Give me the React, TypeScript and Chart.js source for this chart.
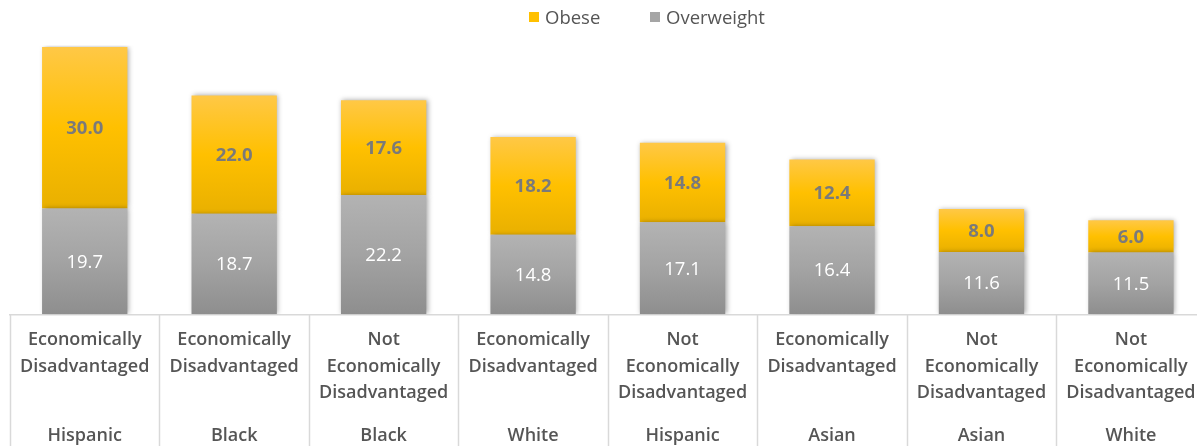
import React, { useEffect, useRef } from 'react';
import { Chart, registerables } from 'chart.js';

Chart.register(...registerables);

const subLabels: string[][] = [
  ['Economically', 'Disadvantaged'],
  ['Economically', 'Disadvantaged'],
  ['Not', 'Economically', 'Disadvantaged'],
  ['Economically', 'Disadvantaged'],
  ['Not', 'Economically', 'Disadvantaged'],
  ['Economically', 'Disadvantaged'],
  ['Not', 'Economically', 'Disadvantaged'],
  ['Not', 'Economically', 'Disadvantaged'],
];
const groupLabels: string[] = ['Hispanic', 'Black', 'Black', 'White', 'Hispanic', 'Asian', 'Asian', 'White'];
const overweight: number[] = [19.7, 18.7, 22.2, 14.8, 17.1, 16.4, 11.6, 11.5];
const obese: number[] = [30.0, 22.0, 17.6, 18.2, 14.8, 12.4, 8.0, 6.0];
const seriesNames = ['Overweight', 'Obese'];

const FONT = "'Open Sans', sans-serif";
const TEXT = '#555555';

function makeGradient(chart: any, di: number, i: number) {
  const ys = chart.scales?.y;
  if (!ys) return di === 0 ? '#a5a5a5' : '#ffc000';
  const lo = di === 0 ? 0 : overweight[i];
  const hi = di === 0 ? overweight[i] : overweight[i] + obese[i];
  const top = ys.getPixelForValue(hi);
  const bot = ys.getPixelForValue(lo);
  if (!isFinite(top) || !isFinite(bot)) return di === 0 ? '#a5a5a5' : '#ffc000';
  const g = chart.ctx.createLinearGradient(0, top, 0, bot);
  if (di === 0) {
    g.addColorStop(0, '#b3b3b3');
    g.addColorStop(0.5, '#a3a3a3');
    g.addColorStop(1, '#8e8e8e');
  } else {
    g.addColorStop(0, '#ffc846');
    g.addColorStop(0.5, '#ffc000');
    g.addColorStop(1, '#e9b000');
  }
  return g;
}

const decorPlugin = {
  id: 'decor',
  beforeDatasetsDraw(chart: any) {
    const ctx = chart.ctx;
    ctx.save();
    ctx.shadowColor = 'rgba(0,0,0,0.35)';
    ctx.shadowBlur = 5;
    ctx.shadowOffsetX = 1.5;
    ctx.shadowOffsetY = 0;
  },
  afterDatasetsDraw(chart: any) {
    const ctx = chart.ctx;
    ctx.restore();
    ctx.save();
    ctx.textAlign = 'center';
    ctx.textBaseline = 'middle';
    chart.data.datasets.forEach((ds: any, di: number) => {
      const meta = chart.getDatasetMeta(di);
      meta.data.forEach((el: any, i: number) => {
        const p = el.getProps(['x', 'y', 'base'], true);
        const v = ds.data[i];
        if (di === 0) {
          ctx.font = `400 18.5px ${FONT}`;
          ctx.fillStyle = '#ffffff';
        } else {
          ctx.font = `700 18.5px ${FONT}`;
          ctx.fillStyle = '#7a7a7a';
        }
        ctx.fillText(v.toFixed(1), p.x, (p.y + p.base) / 2 + 1);
      });
    });
    ctx.restore();
  },
  afterDraw(chart: any) {
    const ctx = chart.ctx;
    const xs = chart.scales.x;
    ctx.save();
    ctx.strokeStyle = '#d9d9d9';
    ctx.lineWidth = 1.5;
    for (let i = 0; i <= subLabels.length; i++) {
      const px = Math.round(xs.getPixelForValue(i - 0.5)) + 0.5;
      ctx.beginPath();
      ctx.moveTo(px, chart.chartArea.bottom);
      ctx.lineTo(px, chart.height);
      ctx.stroke();
    }
    ctx.restore();
  },
};

export default function App() {
  const ref = useRef<HTMLCanvasElement | null>(null);
  useEffect(() => {
    if (!ref.current) return;
    const chart = new Chart(ref.current, {
      type: 'bar',
      data: {
        labels: subLabels as any,
        datasets: [
          {
            label: seriesNames[0],
            data: overweight,
            backgroundColor: (c: any) => makeGradient(c.chart, 0, c.dataIndex),
            borderWidth: 0,
            barPercentage: 0.571,
            categoryPercentage: 1,
          },
          {
            label: seriesNames[1],
            data: obese,
            backgroundColor: (c: any) => makeGradient(c.chart, 1, c.dataIndex),
            borderWidth: 0,
            barPercentage: 0.571,
            categoryPercentage: 1,
          },
        ],
      },
      options: {
        animation: false,
        responsive: false,
        devicePixelRatio: 1,
        layout: { padding: { left: 10, right: 0, top: 45.5, bottom: 0 } },
        plugins: {
          legend: { display: false },
          tooltip: { enabled: false },
        },
        scales: {
          x: {
            stacked: true,
            offset: true,
            grid: { display: false, drawTicks: false, tickLength: 0 },
            border: { display: true, color: '#d9d9d9', width: 1.5 },
            ticks: {
              autoSkip: false,
              maxRotation: 0,
              minRotation: 0,
              padding: 12.45,
              color: TEXT,
              font: { family: FONT, size: 18, weight: '600', lineHeight: '26.5px' as any },
            },
          },
          x2: {
            type: 'category',
            labels: groupLabels,
            position: 'bottom',
            offset: true,
            grid: { display: false, drawTicks: false, tickLength: 0 },
            border: { display: false },
            ticks: {
              autoSkip: false,
              maxRotation: 0,
              minRotation: 0,
              padding: 7.15,
              color: TEXT,
              font: { family: FONT, size: 18, weight: '600', lineHeight: '20px' as any },
            },
          },
          y: {
            stacked: true,
            display: false,
            min: 0,
            max: 50,
          },
        },
      },
      plugins: [decorPlugin],
    });
    return () => chart.destroy();
  }, []);

  const legendText: React.CSSProperties = {
    position: 'absolute',
    top: 4,
    fontFamily: FONT,
    fontSize: '18.5px',
    lineHeight: '26px',
    color: TEXT,
    whiteSpace: 'nowrap',
    display: 'flex',
    alignItems: 'center',
  };
  const box = (c: string): React.CSSProperties => ({
    display: 'inline-block',
    width: 10,
    height: 10,
    background: c,
    marginRight: 6,
  });

  return (
    <div style={{ position: 'fixed', left: 0, top: 0, width: 1197, height: 446, overflow: 'hidden', background: '#fff' }}>
      <canvas ref={ref} width={1208} height={453} style={{ position: 'absolute', left: 0, top: 0, width: 1208, height: 453 }} />
      <div style={{ ...legendText, left: 529 }}>
        <span style={box('#ffc000')} />
        <span>{seriesNames[1]}</span>
      </div>
      <div style={{ ...legendText, left: 650 }}>
        <span style={box('#a5a5a5')} />
        <span>{seriesNames[0]}</span>
      </div>
    </div>
  );
}
